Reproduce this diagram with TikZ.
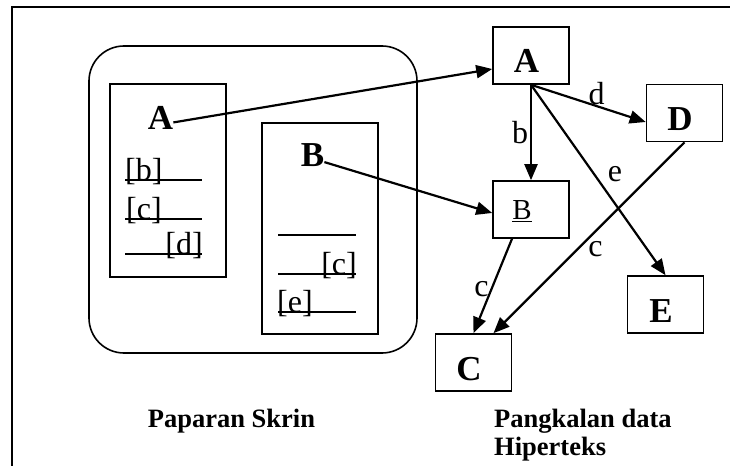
\documentclass[tikz,border=0pt]{standalone}
\usepackage{fontspec}
\setmainfont{Liberation Serif}
\usetikzlibrary{arrows.meta}
\begin{document}
\begin{tikzpicture}[x=1bp,y=-1bp,
  frameline/.style={line width=1.5bp},
  thin/.style={line width=1.5bp},
  box/.style={draw,line width=1.6bp,minimum width=76bp,minimum height=57bp,inner sep=0pt,
    font=\fontsize{35bp}{40bp}\selectfont\bfseries,text height=35bp,text depth=0bp,
    execute at begin node={\hspace*{-9bp}}},
  boxreg/.style={box,font=\fontsize{29bp}{34bp}\selectfont,text height=21bp,
    execute at begin node={\hspace*{-9bp}}},
  big/.style={inner sep=0pt,font=\fontsize{35bp}{40bp}\selectfont\bfseries,anchor=base},
  reg/.style={inner sep=0pt,font=\fontsize{32bp}{36bp}\selectfont},
  ttl/.style={inner sep=0pt,font=\fontsize{26.5bp}{30bp}\selectfont\bfseries},
  arr/.style={line width=2.2bp,-{Triangle[length=16bp,width=13bp]}}
]
\useasboundingbox (0,0) rectangle (730,466);
% outer frame
\draw[frameline] (730,7) -- (12,7) -- (12,466);
% screen display
\node[draw,line width=1.6bp,rounded corners=35bp,minimum width=328bp,minimum height=307bp] (screen) at (253,199.5) {};
\node[draw,line width=1.6bp,minimum width=116bp,minimum height=193bp] (pageA) at (168,180.5) {};
\node[draw,line width=1.6bp,minimum width=116bp,minimum height=211bp] (pageB) at (320,228.5) {};
\node[big] (sA) at (160.5,130) {A};
\node[big] (sB) at (312.5,167) {B};
% page A lines
\draw[thin] (125,180) -- (202,180);
\draw[thin] (125,219) -- (202,219);
\draw[thin] (125,254) -- (202,254);
\node[reg,anchor=base west] (tb) at (125,181) {[b]};
\node[reg,anchor=base west] (tc) at (126,220) {[c]};
\node[reg,anchor=base east] (td) at (203,255) {[d]};
% page B lines
\draw[thin] (278,235) -- (356,235);
\draw[thin] (278,274) -- (356,274);
\draw[thin] (278,312) -- (356,312);
\node[reg,anchor=base east] (tc2) at (357,275) {[c]};
\node[reg,anchor=base west] (te) at (277,313) {[e]};
% hypertext database
\node[box] (rA) at (531,55.5) {A};
\node[box] (rD) at (684.5,113) {D};
\node[boxreg] (rB) at (531,209.5) {\underline{B}};
\node[box] (rE) at (665.5,304.5) {E};
\node[box] (rC) at (473.5,362.5) {C};
% connectors
\draw[arr] ([yshift=-4bp]sA.east) -- ([yshift=-13.5bp]rA.west);
\draw[arr] ([yshift=-6.5bp]sB.east) -- ([yshift=-3.5bp]rB.west);
\draw[arr] (rA.south) -- (rB.north);
\draw[arr] (rA.south) -- ([yshift=-9bp]rD.west);
\draw[arr] (rA.south) -- (rE.north);
\draw[arr] (rD.south) -- ([xshift=20bp]rC.north);
\draw[arr] ([xshift=-19bp]rB.south) -- (rC.north);
% edge labels
\node[reg,anchor=base] (lb) at (520,143.3) {b};
\node[reg,anchor=base] (ld) at (596.5,105) {d};
\node[reg,anchor=base] (le) at (615,182) {e};
\node[reg,anchor=base] (lc1) at (595.5,257) {c};
\node[reg,anchor=base] (lc2) at (481.5,297) {c};
% titles
\node[ttl,anchor=base] (t1) at (231.5,427) {Paparan Skrin};
\node[ttl,anchor=base west] (t2) at (494,427) {Pangkalan data};
\node[ttl,anchor=base west] (t3) at (494,455) {Hiperteks};
\end{tikzpicture}
\end{document}
